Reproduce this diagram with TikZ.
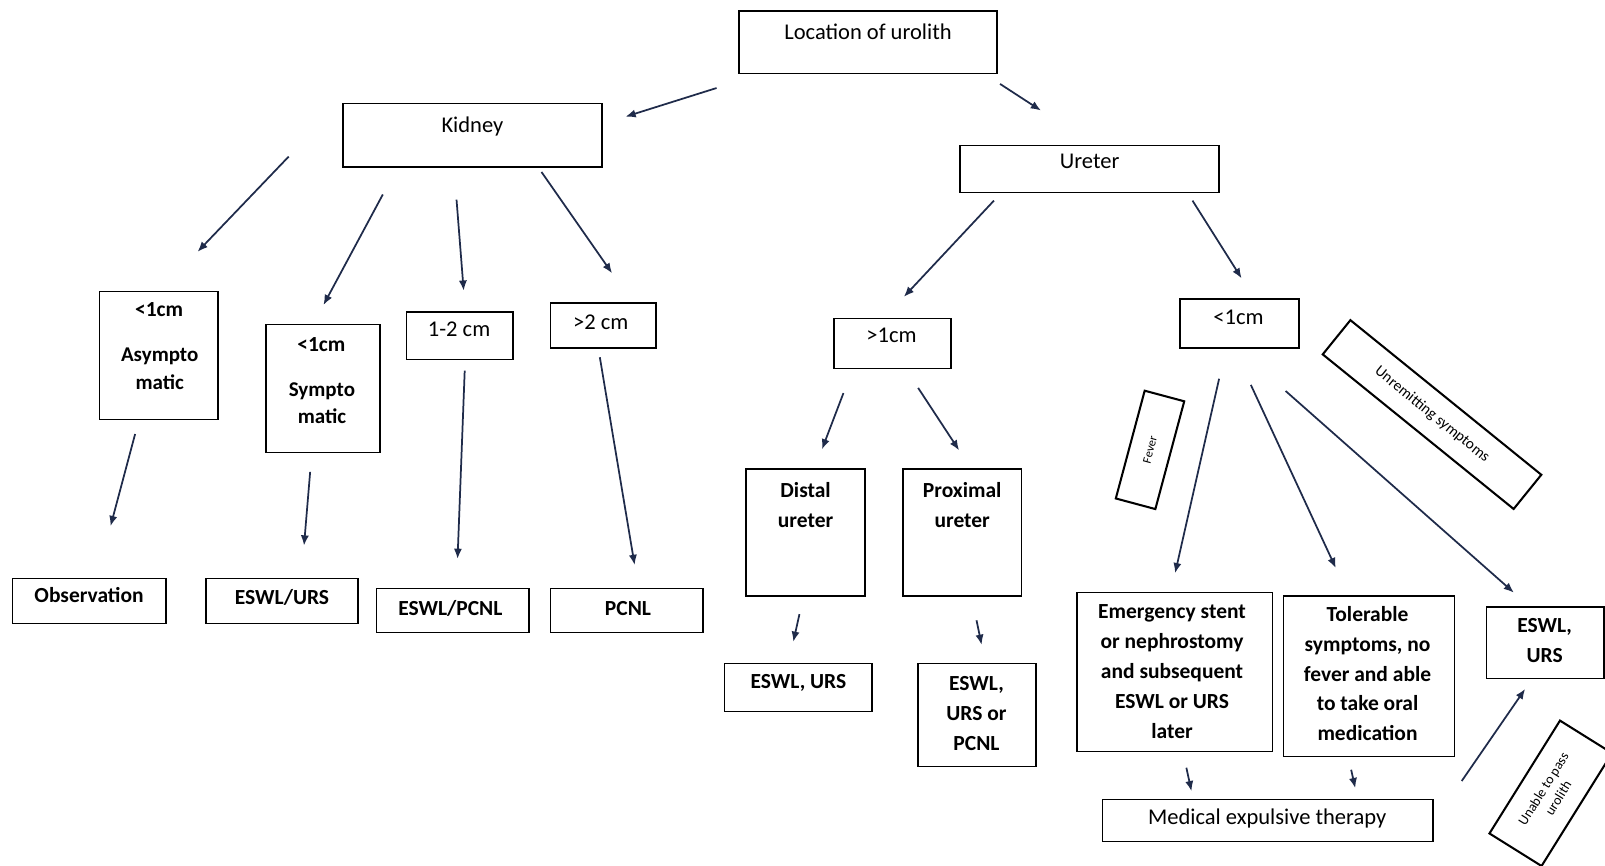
\documentclass[tikz,border=0pt]{standalone}
\usepackage{fontspec}
\setmainfont{Carlito}
\usetikzlibrary{arrows.meta}
\definecolor{navy}{HTML}{1F2B4A}
\tikzset{
 box/.style={draw=black, line width=1.5pt, inner sep=0pt},
 tbox/.style={draw=black, line width=2pt, inner sep=0pt, align=center},
 lbl/.style={font=\fontsize{22}{29}\selectfont, anchor=base, inner sep=0pt},
 blbl/.style={font=\fontsize{21}{28.5}\selectfont\bfseries, anchor=base, inner sep=0pt},
 mlbl/.style={font=\fontsize{21}{29.3}\selectfont\bfseries, anchor=center, align=center, inner sep=0pt},
 arr/.style={draw=navy, line width=1.7pt, -{Latex[length=10pt,width=8pt]}},
}
\begin{document}
\begin{tikzpicture}[x=1pt,y=-1pt]
\useasboundingbox (0,0) rectangle (1568,846);
\clip (0,0) rectangle (1568,846);
\fill[white] (0,0) rectangle (1568,846);
% boxes
\node[box, minimum width=252pt, minimum height=61pt] (loc) at (848,41.5) {};
\node[lbl] (locT) at (848,39) {Location of urolith};
\node[box, minimum width=253pt, minimum height=62pt] (kid) at (461.5,132) {};
\node[lbl] (kidT) at (461.5,129) {Kidney};
\node[box, minimum width=253pt, minimum height=46pt] (ure) at (1064.5,165) {};
\node[lbl] (ureT) at (1064.5,165) {Ureter};
\node[box, minimum width=116pt, minimum height=125pt] (asy) at (155,347.5) {};
\node[blbl] (asyA) at (155.5,309) {<1cm};
\node[mlbl, font=\fontsize{20.5}{27}\selectfont\bfseries] (asyB) at (156,360) {Asympto\\matic};
\node[box, minimum width=111pt, minimum height=125pt] (sym) at (315.5,379.5) {};
\node[blbl] (symA) at (314,343) {<1cm};
\node[mlbl, font=\fontsize{20.5}{27}\selectfont\bfseries] (symB) at (314.5,394) {Sympto\\matic};
\node[box, minimum width=104pt, minimum height=46pt] (k12) at (449,328) {};
\node[lbl] (k12T) at (448.5,329) {1-2 cm};
\node[box, minimum width=103pt, minimum height=44pt] (k2) at (589.5,318) {};
\node[lbl] (k2T) at (587,322) {>2 cm};
\node[box, minimum width=114pt, minimum height=49pt] (u1) at (872,335.5) {};
\node[lbl] (u1T) at (871,335) {>1cm};
\node[box, minimum width=116pt, minimum height=48pt] (u2) at (1211,316) {};
\node[lbl] (u2T) at (1210,317) {<1cm};
\node[box, minimum width=116pt, minimum height=124pt] (dis) at (787,520) {};
\node[mlbl] (disT) at (787,493) {Distal\\ureter};
\node[box, minimum width=116pt, minimum height=124pt] (pro) at (940,520) {};
\node[mlbl] (proT) at (940,493) {Proximal\\ureter};
\node[box, minimum width=150pt, minimum height=44pt] (obs) at (87,587) {};
\node[blbl] (obsT) at (87,589) {Observation};
\node[box, minimum width=149pt, minimum height=44pt] (ewu) at (275.5,587) {};
\node[blbl] (ewuT) at (275.5,591) {ESWL/URS};
\node[box, minimum width=149pt, minimum height=43pt] (ewp) at (442.5,596.5) {};
\node[blbl] (ewpT) at (440,601) {ESWL/PCNL};
\node[box, minimum width=149pt, minimum height=43pt] (pcn) at (612.5,596.5) {};
\node[blbl] (pcnT) at (613.5,601) {PCNL};
\node[box, minimum width=144pt, minimum height=47pt] (du) at (780,671.5) {};
\node[blbl] (duT) at (780,673) {ESWL, URS};
\node[box, minimum width=115pt, minimum height=101pt] (pu) at (954.5,698.5) {};
\node[mlbl] (puT) at (954,697) {ESWL,\\URS or\\PCNL};
\node[box, minimum width=191pt, minimum height=155pt] (em) at (1147.5,656.5) {};
\node[mlbl] (emT) at (1145,656) {Emergency stent\\or nephrostomy\\and subsequent\\ESWL or URS\\later};
\node[box, minimum width=167pt, minimum height=157pt] (tol) at (1337.5,660.5) {};
\node[mlbl] (tolT) at (1336,658) {Tolerable\\symptoms, no\\fever and able\\to take oral\\medication};
\node[box, minimum width=115pt, minimum height=70pt] (ewr) at (1509.5,628) {};
\node[mlbl] (ewrT) at (1509,625.5) {ESWL,\\URS};
\node[box, minimum width=323pt, minimum height=41pt] (met) at (1238.5,801.5) {};
\node[lbl] (metT) at (1238,805) {Medical expulsive therapy};
% rotated condition boxes
\node[tbox, minimum width=109pt, minimum height=40pt, rotate=75, font=\fontsize{12}{14}\selectfont] (fev) at (1123.5,439.5) {Fever};
\node[tbox, minimum width=240pt, minimum height=43pt, rotate=-39, font=\fontsize{15}{18}\selectfont] (unr) at (1399,405) {Unremitting symptoms};
\node[tbox, minimum width=130pt, minimum height=60pt, rotate=58, font=\fontsize{13.5}{17}\selectfont] (una) at (1515,775) {Unable to pass\\urolith};
% arrow end points
\coordinate (a1s) at (700,86);   \coordinate (a1e) at (611,114);
\coordinate (a2s) at (977,82);   \coordinate (a2e) at (1017,108);
\coordinate (a3s) at (282,153);  \coordinate (a3e) at (193,246);
\coordinate (a4s) at (374,190);  \coordinate (a4e) at (316,298);
\coordinate (a5s) at (446,195);  \coordinate (a5e) at (453,284);
\coordinate (a6s) at (529,168);  \coordinate (a6e) at (598,267);
\coordinate (a7s) at (971,196);  \coordinate (a7e) at (883,290);
\coordinate (a8s) at (1165,196); \coordinate (a8e) at (1213,272);
\coordinate (a9s) at (132,424);  \coordinate (a9e) at (108,514);
\coordinate (a10s) at (303,461); \coordinate (a10e) at (297,533);
\coordinate (a11s) at (454,362); \coordinate (a11e) at (447,546);
\coordinate (a12s) at (586,349); \coordinate (a12e) at (620,552);
\coordinate (a13s) at (824,384); \coordinate (a13e) at (803,439);
\coordinate (a14s) at (897,379); \coordinate (a14e) at (937,440);
\coordinate (a15s) at (781,600); \coordinate (a15e) at (775,627);
\coordinate (a16s) at (954,606); \coordinate (a16e) at (959,630);
\coordinate (a17s) at (1191,370); \coordinate (a17e) at (1148,560);
\coordinate (a18s) at (1222,376); \coordinate (a18e) at (1305,555);
\coordinate (a19s) at (1256,382); \coordinate (a19e) at (1479,579);
\coordinate (a20s) at (1159,750); \coordinate (a20e) at (1164,773);
\coordinate (a21s) at (1320,752); \coordinate (a21e) at (1324,770);
\coordinate (a22s) at (1428,763); \coordinate (a22e) at (1490,673);
\foreach \i in {1,...,22} { \draw[arr] (a\i s) -- (a\i e); }
\end{tikzpicture}
\end{document}
